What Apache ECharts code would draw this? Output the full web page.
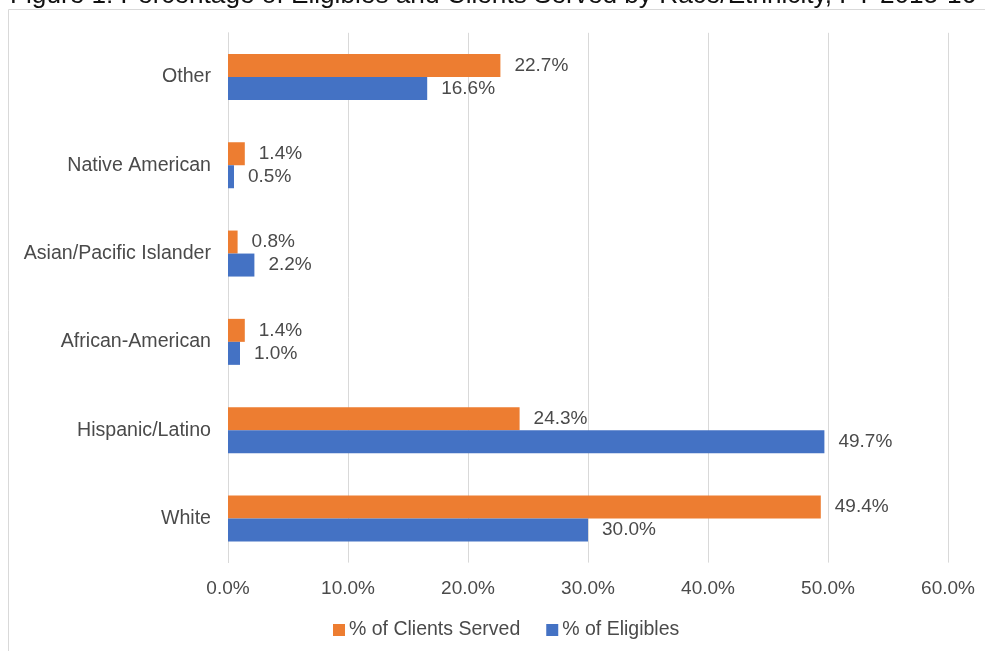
<!DOCTYPE html>
<html>
<head>
<meta charset="utf-8">
<script src="https://cdn.jsdelivr.net/npm/echarts@6/dist/echarts.min.js"></script>
<style>
html,body{margin:0;padding:0;background:#fff;}
#chart{width:985px;height:651px;}
</style>
</head>
<body>
<div id="chart"></div>
<script>
const titleText = 'Figure 1: Percentage of Eligibles and Clients Served by Race/Ethnicity, FY 2015-16';
const categories = ['White', 'Hispanic/Latino', 'African-American', 'Asian/Pacific Islander', 'Native American', 'Other'];
const clientsServed = [49.4, 24.3, 1.4, 0.8, 1.4, 22.7];
const eligibles = [30.0, 49.7, 1.0, 2.2, 0.5, 16.6];
const seriesNames = ['% of Clients Served', '% of Eligibles'];
const xTicks = [0, 10, 20, 30, 40, 50, 60];

const FONT = '"Liberation Sans", Arial, sans-serif';
const TXT = '#4a4a4a';

const chart = echarts.init(document.getElementById('chart'), null, {renderer: 'canvas'});
const labelCfg = {
  show: true, position: 'right', distance: 14,
  color: TXT, fontFamily: FONT, fontSize: 19,
  formatter: p => p.value.toFixed(1) + '%'
};
chart.setOption({
  animation: false,
  graphic: [
    {type: 'rect', shape: {x: 8.5, y: 9.5, width: 1100, height: 800},
     style: {fill: 'none', stroke: '#d9d9d9', lineWidth: 1}, silent: true},
    {type: 'text', x: 10, y: -4,
     style: {text: titleText, fill: '#111', font: '26.2px "Liberation Sans", Arial, sans-serif', textVerticalAlign: 'middle'}}
  ],
  grid: {left: 228, right: 37, top: 32.8, bottom: 88.4, containLabel: false},
  legend: {
    data: seriesNames, left: 328, top: 615,
    itemWidth: 12, itemHeight: 12, itemGap: 26, icon: 'rect',
    textStyle: {color: TXT, fontFamily: FONT, fontSize: 19.5, padding: [0, 0, 0, -1]}
  },
  xAxis: {
    type: 'value', min: xTicks[0], max: xTicks[xTicks.length - 1], interval: 10,
    axisLine: {show: false}, axisTick: {show: false},
    splitLine: {lineStyle: {color: '#d9d9d9', width: 1}},
    axisLabel: {color: TXT, fontFamily: FONT, fontSize: 19, margin: 17,
      formatter: v => v.toFixed(1) + '%'}
  },
  yAxis: {
    type: 'category', data: categories,
    axisLine: {lineStyle: {color: '#d9d9d9', width: 1}},
    axisTick: {show: false},
    axisLabel: {color: TXT, fontFamily: FONT, fontSize: 19.6, margin: 17}
  },
  series: [
    {name: seriesNames[0], type: 'bar', data: clientsServed, barWidth: 23, barGap: '0%',
     itemStyle: {color: '#ED7D31'}, label: labelCfg},
    {name: seriesNames[1], type: 'bar', data: eligibles, barWidth: 23, barGap: '0%',
     itemStyle: {color: '#4472C4'}, label: labelCfg}
  ]
});
</script>
</body>
</html>
